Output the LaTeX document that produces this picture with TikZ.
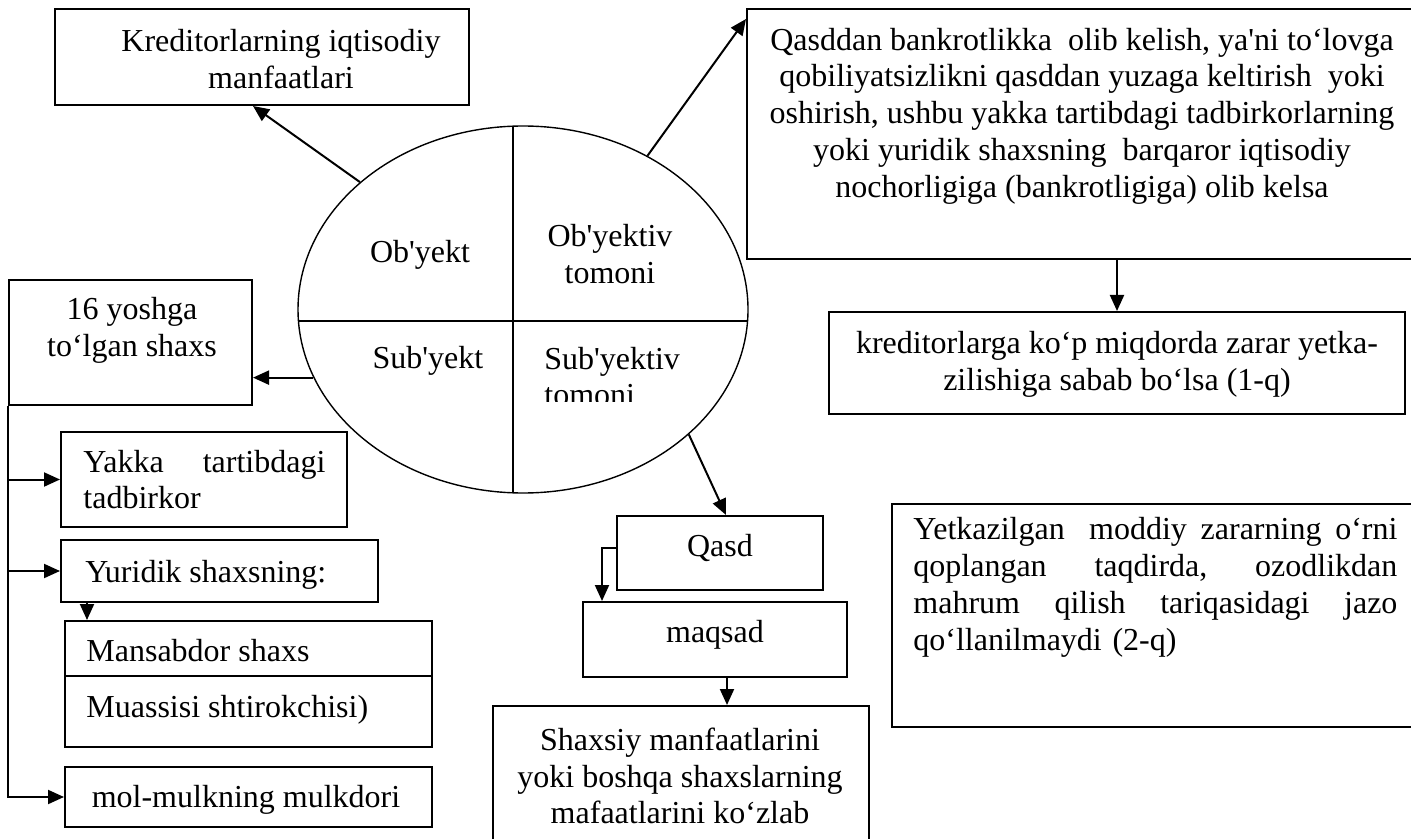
\documentclass[tikz,border=0pt]{standalone}
\usepackage{fontspec}
\setmainfont{Liberation Serif}[Ligatures=TeXOff]
\usetikzlibrary{arrows.meta,fit,shapes.geometric}
\begin{document}
\begin{tikzpicture}[x=0.5pt,y=-0.5pt,
  box/.style={draw, line width=1pt, inner sep=0pt},
  txt/.style={inner sep=0pt, font=\fontsize{16}{18.4}\selectfont},
  arr/.style={line width=1pt, -{Triangle[length=8pt,width=7pt]}},
  thinline/.style={line width=0.7pt}]
\clip (0,0) rectangle (1411,839);
\fill[white] (0,0) rectangle (1411,839);

% central ellipse
\node[draw, thinline, ellipse, inner sep=0pt, minimum width=225pt, minimum height=183.5pt] (ell) at (523,309.5) {};
\draw[thinline] (513,126.2) -- (513,492.8);
\draw[thinline] (298.4,321) -- (747.6,321);
\node[txt, anchor=base] (obyekt) at (420,263) {Ob'yekt};
\node[txt, align=center] (obtom) at (610,254) {Ob'yektiv\\tomoni};
\node[txt, anchor=base] (subyekt) at (428,368) {Sub'yekt};
\begin{scope}
  \clip (530,330) rectangle (700,401);
  \node[txt, align=left, anchor=west] (subtom) at (544,376.5) {Sub'yektiv\\tomoni};
\end{scope}

% top-left box
\node[box, fit={(55,9)(469,105)}] (kred) {};
\node[txt, align=center] (kredt) at (281,59) {Kreditorlarning iqtisodiy\\manfaatlari};

% top-right big box
\node[box, fit={(747,9)(1430,259)}] (big) {};
\node[txt, align=center] (bigt) at (1082,116) {Qasddan bankrotlikka\ \ olib kelish, ya'ni to‘lovga\\qobiliyatsizlikni qasddan yuzaga keltirish\ \ yoki\\oshirish, ushbu yakka tartibdagi tadbirkorlarning\\yoki yuridik shaxsning\ \ barqaror iqtisodiy\\nochorligiga (bankrotligiga) olib kelsa};

\node[box, fit={(829,312)(1405,414)}] (kr) {};
\node[txt, align=center] (krt) at (1117,364) {kreditorlarga ko‘p miqdorda zarar yetka-\\zilishiga sabab bo‘lsa (1-q)};

% left column
\node[box, fit={(9,280)(252,405)}] (yosh) {};
\node[txt, align=center] (yosht) at (132,330.5) {16 yoshga\\to‘lgan shaxs};

\node[box, fit={(61,432)(347,527)}] (yakka) {};
\node[txt, align=left, text width=121pt, anchor=west] (yakkat) at (83,479.5) {Yakka\hfill tartibdagi\\tadbirkor};

\node[box, fit={(61,540)(378,602)}] (yur) {};
\node[txt, anchor=base west] (yurt) at (85,582) {Yuridik shaxsning:};

\node[box, fit={(65,621)(432,747)}] (man) {};
\draw[line width=1pt] (man.west |- 0,676) -- (man.east |- 0,676);
\node[txt, anchor=base west] (mant) at (86,661) {Mansabdor shaxs};
\node[txt, anchor=base west] (muat) at (86,717) {Muassisi shtirokchisi)};

\node[box, fit={(65,767)(432,827)}] (mol) {};
\node[txt, anchor=base] (molt) at (246,807) {mol-mulkning mulkdori};

% middle bottom
\node[box, fit={(617,516)(823,590)}] (qasd) {};
\node[txt, anchor=base] (qasdt) at (720,556) {Qasd};

\node[box, fit={(583,602)(847,677)}] (maqsad) {};
\node[txt, anchor=base] (maqsadt) at (715,642) {maqsad};

\node[box, fit={(493,706)(869,860)}] (shax) {};
\node[txt, align=center] (shaxt) at (680,776) {Shaxsiy manfaatlarini\\yoki boshqa shaxslarning\\mafaatlarini ko‘zlab};

% right bottom
\node[box, fit={(892,504)(1430,727)}] (yet) {};
\node[txt, align=left, text width=242pt, anchor=west] (yett) at (913,587.5) {Yetkazilgan\ \ \hfill moddiy\ \hfill zararning\ \hfill o‘rni\\qoplangan\hfill taqdirda,\hfill ozodlikdan\\mahrum\hfill qilish\hfill tariqasidagi\hfill jazo\\qo‘llanilmaydi (2-q)};

% connectors
\draw[arr] (ell.142) -- ([xshift=-4.5pt]kred.south);
\draw[arr] (ell.51.25) -- ([yshift=-5.5pt]big.north west);
\draw[arr] (big.south -| kr.north) -- (kr.north);
\draw[arr] (ell.198.3) -- (ell.198.3 -| yosh.east);
\draw[arr] (ell.323.5) -- ([xshift=3pt]qasd.north);
\draw[arr] ([yshift=2.5pt]qasd.west) -| ([xshift=10pt]maqsad.north west);
\draw[arr] ([xshift=6pt]maqsad.south) -- ([xshift=6pt]maqsad.south |- shax.north);

\draw[arr] (yosh.south west) |- (mol.west);
\draw[arr] (yosh.south west |- yakka.west) -- (yakka.west);
\draw[arr] (yosh.south west |- yur.west) -- (yur.west);
\draw[arr] ([xshift=13.5pt]yur.south west) -- ([xshift=13.5pt]yur.south west |- man.north);
\end{tikzpicture}
\end{document}
